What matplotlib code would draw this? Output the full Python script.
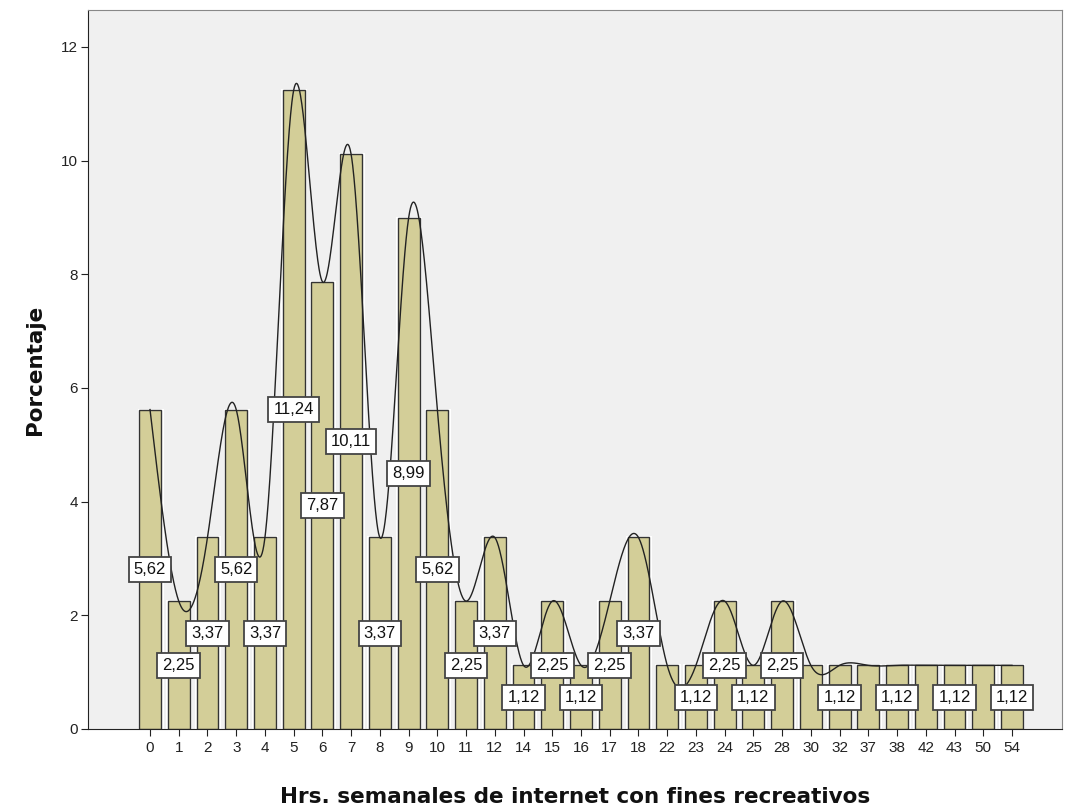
import matplotlib
matplotlib.use('Agg')
import matplotlib.pyplot as plt
import numpy as np

categories = ['0', '1', '2', '3', '4', '5', '6', '7', '8', '9', '10', '11', '12', '14', '15',
              '16', '17', '18', '22', '23', '24', '25', '28', '30', '32', '37', '38', '42',
              '43', '50', '54']
percent = [5.62, 2.25, 3.37, 5.62, 3.37, 11.24, 7.87, 10.11, 3.37, 8.99, 5.62, 2.25, 3.37,
           1.12, 2.25, 1.12, 2.25, 3.37, 1.12, 1.12, 2.25, 1.12, 2.25, 1.12, 1.12, 1.12,
           1.12, 1.12, 1.12, 1.12, 1.12]
# categories whose label SPSS hid to avoid overlap
hidden_labels = ['22', '30', '37', '42', '50']

plt.rcParams['font.family'] = ['Liberation Sans', 'DejaVu Sans']


def natural_spline(x, y, n=2000):
    # natural cubic spline through the points
    x = np.asarray(x, float)
    y = np.asarray(y, float)
    k = len(x)
    h = np.diff(x)
    A = np.zeros((k, k))
    b = np.zeros(k)
    A[0, 0] = 1
    A[-1, -1] = 1
    for i in range(1, k - 1):
        A[i, i - 1] = h[i - 1]
        A[i, i] = 2 * (h[i - 1] + h[i])
        A[i, i + 1] = h[i]
        b[i] = 3 * ((y[i + 1] - y[i]) / h[i] - (y[i] - y[i - 1]) / h[i - 1])
    c = np.linalg.solve(A, b)
    xs = np.linspace(x[0], x[-1], n)
    idx = np.clip(np.searchsorted(x, xs) - 1, 0, k - 2)
    dx = xs - x[idx]
    bb = (y[idx + 1] - y[idx]) / h[idx] - h[idx] * (2 * c[idx] + c[idx + 1]) / 3
    d = (c[idx + 1] - c[idx]) / (3 * h[idx])
    ys = y[idx] + bb * dx + c[idx] * dx ** 2 + d * dx ** 3
    return xs, ys


fig = plt.figure(figsize=(10.7, 8.09), dpi=100)
ax = fig.add_axes([0.0822, 0.0989, 0.9103, 0.8887])
ax.set_facecolor('#f0f0f0')

pos = np.arange(len(categories))
ax.bar(pos, percent, width=0.8, color='#d3ce98', edgecolor='white', linewidth=2.2, zorder=2)
ax.bar(pos, percent, width=0.76, color='#d3ce98', edgecolor='#333333', linewidth=1.0, zorder=2)

xs, ys = natural_spline(pos, percent)
ax.plot(xs, ys, color='#222222', linewidth=1.0, zorder=3)

for p, cat, v in zip(pos, categories, percent):
    if cat in hidden_labels:
        continue
    ax.text(p, v / 2, f'{v:.2f}'.replace('.', ','), ha='center', va='center', fontsize=12,
            color='#111111', zorder=4,
            bbox=dict(boxstyle='square,pad=0.3', facecolor='white', edgecolor='#444444',
                      linewidth=1.3))

ax.set_xlim(-2.16, 31.74)
ax.set_ylim(0, 12.65)
ax.set_xticks(pos)
ax.set_xticklabels(categories)
ax.set_yticks([0, 2, 4, 6, 8, 10, 12])
ax.tick_params(axis='both', labelsize=11, length=5, color='#222222', labelcolor='#222222')
ax.tick_params(axis='y', pad=2)

for side in ['top', 'right']:
    ax.spines[side].set_color('#888888')
for side in ['left', 'bottom']:
    ax.spines[side].set_color('#222222')

ax.set_ylabel('Porcentaje', fontsize=15.5, fontweight='bold', color='#111111', labelpad=12,
              family='DejaVu Sans')
ax.set_xlabel('Hrs. semanales de internet con fines recreativos', fontsize=15.5,
              fontweight='bold', color='#111111', labelpad=23, family='DejaVu Sans')

fig.savefig('out.png', dpi=100)
